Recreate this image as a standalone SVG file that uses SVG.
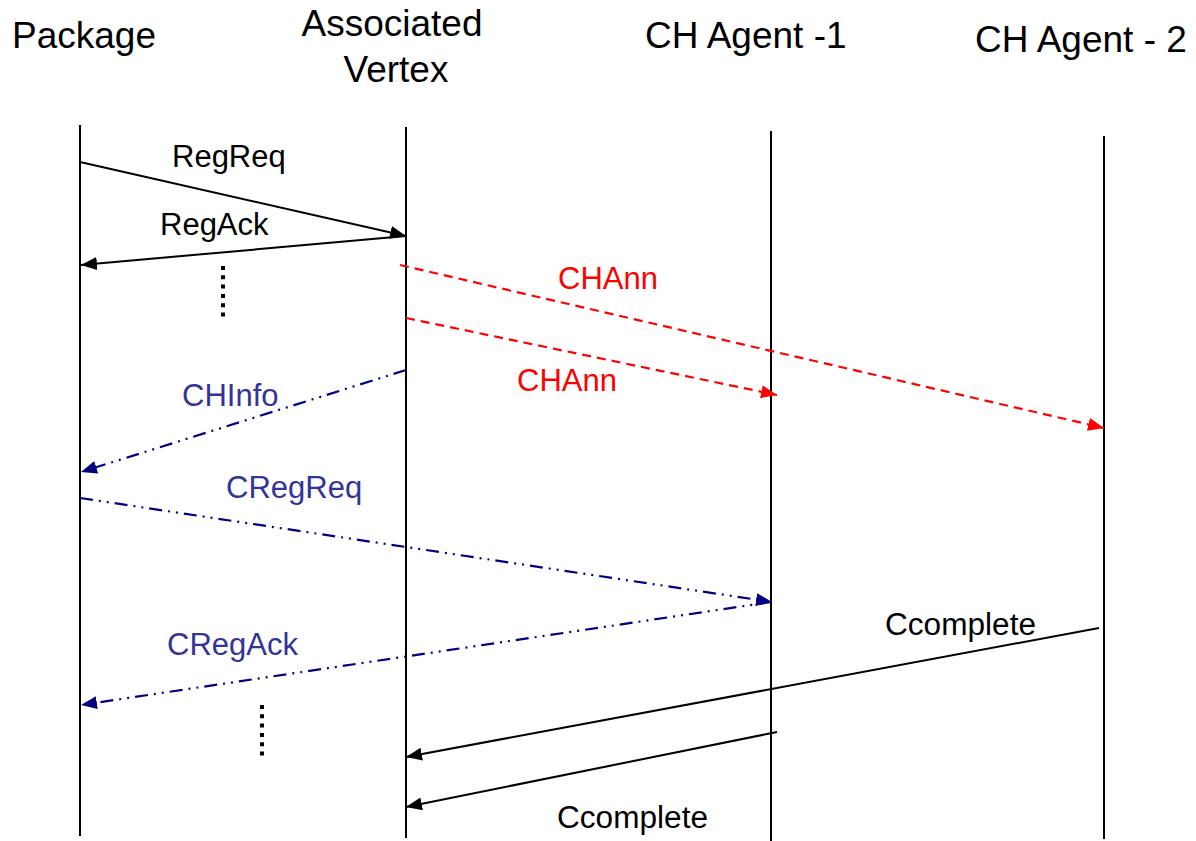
<svg xmlns="http://www.w3.org/2000/svg" width="1196" height="841" viewBox="0 0 1196 841">
<style>
text{font-family:"Liberation Sans",Arial,sans-serif}
.hdr{font-size:37px;fill:#000}
.lbl{font-size:31px;fill:#000}
.red{fill:#FF0000}
.blue{fill:#333399}
.life{stroke:#000;stroke-width:2;fill:none}
.msg{stroke:#000;stroke-width:2;fill:none}
.dash{stroke:#FF0000;stroke-width:2.2;fill:none;stroke-dasharray:9 6}
.dd{stroke:#000080;stroke-width:2.2;fill:none;stroke-dasharray:13 6 2 6 2 6}
.dots{stroke:#000;stroke-width:4;stroke-dasharray:4 5.3;fill:none}
</style>
<defs>
<marker id="ab" markerUnits="userSpaceOnUse" markerWidth="17" markerHeight="14" refX="16" refY="6.5" orient="auto"><path d="M0,0 L16,6.5 L0,13 z" fill="#000"/></marker>
<marker id="ar" markerUnits="userSpaceOnUse" markerWidth="17" markerHeight="14" refX="16" refY="6.5" orient="auto"><path d="M0,0 L16,6.5 L0,13 z" fill="#FF0000"/></marker>
<marker id="an" markerUnits="userSpaceOnUse" markerWidth="17" markerHeight="14" refX="16" refY="6.5" orient="auto"><path d="M0,0 L16,6.5 L0,13 z" fill="#000080"/></marker>
</defs>
<rect width="1196" height="841" fill="#fff"/>
<g id="package">
<text class="hdr" x="12" y="48">Package</text>
<line class="life" x1="80" y1="125" x2="80" y2="836"/>
</g>
<g id="vertex">
<text class="hdr" x="392" y="36" text-anchor="middle">Associated</text>
<text class="hdr" x="396" y="82" text-anchor="middle">Vertex</text>
<line class="life" x1="406" y1="127" x2="406" y2="838"/>
</g>
<g id="agent1">
<text class="hdr" x="645" y="48">CH Agent -1</text>
<line class="life" x1="771" y1="131" x2="771" y2="841"/>
</g>
<g id="agent2">
<text class="hdr" x="975" y="52">CH Agent - 2</text>
<line class="life" x1="1104" y1="136" x2="1104" y2="839"/>
</g>
<g id="connectors">
<line class="msg" x1="80" y1="162" x2="406" y2="236" marker-end="url(#ab)"/>
<line class="msg" x1="406" y1="236" x2="81" y2="265" marker-end="url(#ab)"/>
<line class="dash" x1="400" y1="265" x2="1104" y2="428" marker-end="url(#ar)"/>
<line class="dash" x1="406" y1="318" x2="777" y2="395" marker-end="url(#ar)"/>
<line class="dd" x1="406" y1="370" x2="81" y2="472" marker-end="url(#an)"/>
<line class="dd" x1="80" y1="498" x2="772" y2="602" marker-end="url(#an)"/>
<line class="dd" x1="771" y1="602" x2="81" y2="705" marker-end="url(#an)"/>
<line class="msg" x1="1099" y1="628" x2="406" y2="757" marker-end="url(#ab)"/>
<line class="msg" x1="777" y1="732" x2="406" y2="807" marker-end="url(#ab)"/>
<line class="dots" x1="223" y1="266" x2="223" y2="318"/>
<line class="dots" x1="262" y1="705" x2="262" y2="757"/>
</g>
<g id="labels">
<text class="lbl" x="172" y="167">RegReq</text>
<text class="lbl" x="160" y="235">RegAck</text>
<text class="lbl red" x="558" y="289">CHAnn</text>
<text class="lbl red" x="517" y="391">CHAnn</text>
<text class="lbl blue" x="182" y="406">CHInfo</text>
<text class="lbl blue" x="226" y="498">CRegReq</text>
<text class="lbl blue" x="167" y="655">CRegAck</text>
<text class="lbl" x="885" y="635" textLength="151" lengthAdjust="spacingAndGlyphs">Ccomplete</text>
<text class="lbl" x="557" y="828" textLength="151" lengthAdjust="spacingAndGlyphs">Ccomplete</text>
</g>
</svg>
